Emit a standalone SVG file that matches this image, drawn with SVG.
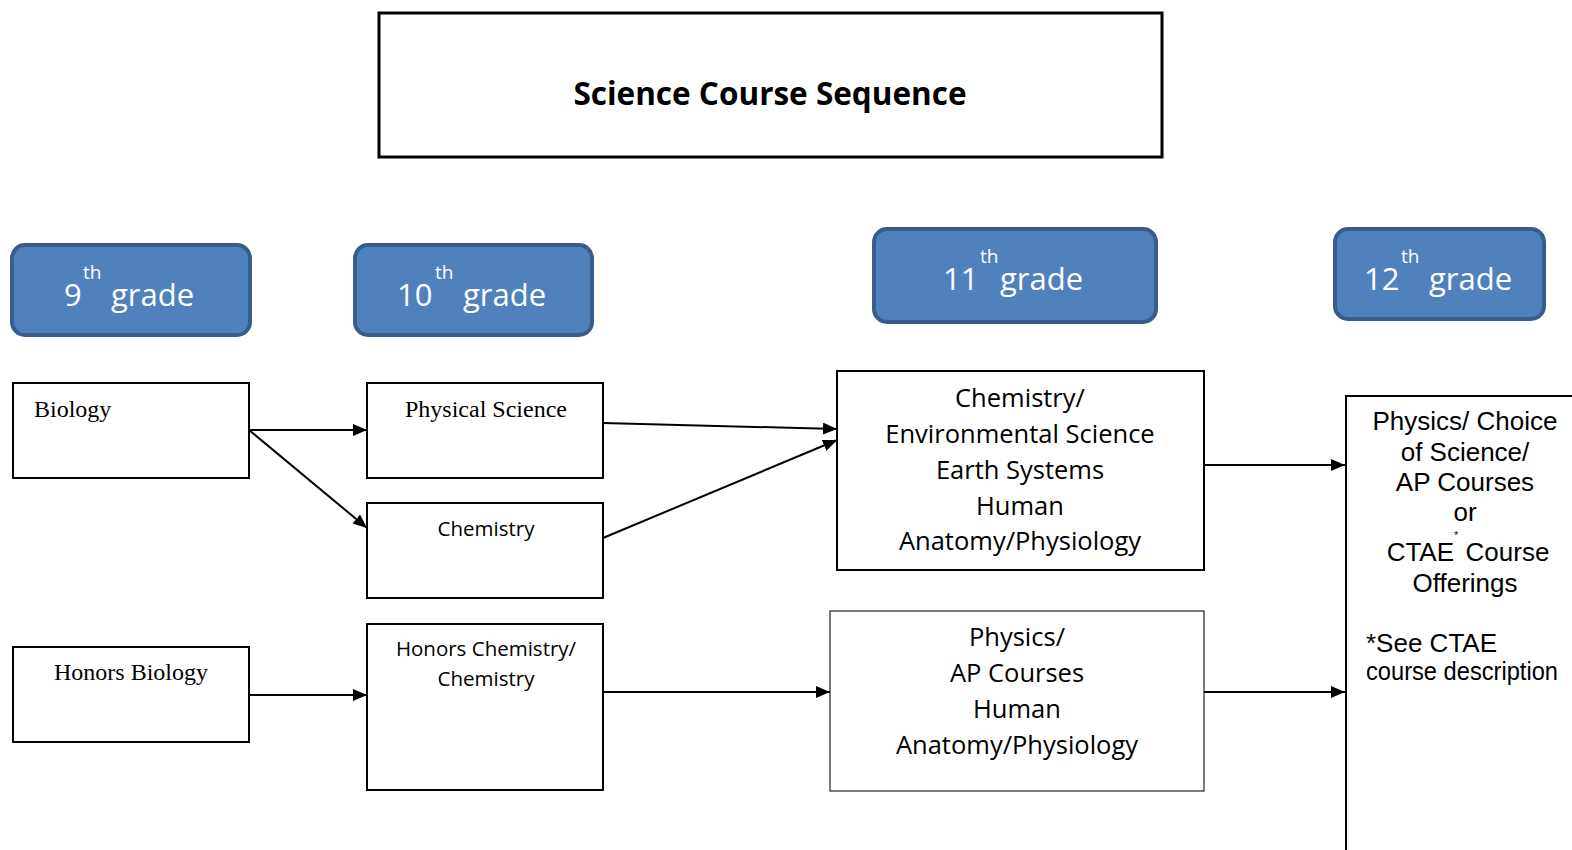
<svg xmlns="http://www.w3.org/2000/svg" width="1572" height="850" viewBox="0 0 1572 850">
  <style>
    .box { fill: #ffffff; stroke: #000000; stroke-width: 2; }
    .grade { fill: #4F81BD; stroke: #385D8A; stroke-width: 4; }
    .gtxt { font-family: "Open Sans", "Noto Sans", sans-serif; fill: #ffffff; font-size: 31px; }
    .gsup { font-family: "Open Sans", "Noto Sans", sans-serif; fill: #ffffff; font-size: 19px; }
    .serif { font-family: "Liberation Serif", serif; font-size: 24px; fill: #000; }
    .cal { font-family: "Open Sans", "Noto Sans", sans-serif; fill: #000; }
    .arial { font-family: "Liberation Sans", Arial, sans-serif; fill: #000; font-size: 26px; }
    .conn { stroke: #000; stroke-width: 2; fill: none; marker-end: url(#arrow); }
  </style>
  <defs>
    <marker id="arrow" viewBox="0 0 14 12" refX="14" refY="6" markerWidth="14" markerHeight="12" markerUnits="userSpaceOnUse" orient="auto">
      <path d="M0,0 L14,6 L0,12 Z" fill="#000"/>
    </marker>
  </defs>

  <rect width="1572" height="850" fill="#ffffff"/>

  <!-- title -->
  <g id="title">
    <rect x="379" y="13" width="783" height="144" fill="#fff" stroke="#000" stroke-width="3"/>
    <text x="770" y="105" text-anchor="middle" class="cal" font-size="31.5" font-weight="bold">Science Course Sequence</text>
  </g>

  <!-- grade headers -->
  <g id="grade9">
    <rect class="grade" x="12" y="245" width="238" height="90" rx="13"/>
    <text class="gtxt" x="64" y="306">9</text>
    <text class="gsup" x="83" y="279">th</text>
    <text class="gtxt" x="111" y="306">grade</text>
  </g>
  <g id="grade10">
    <rect class="grade" x="355" y="245" width="237" height="90" rx="13"/>
    <text class="gtxt" x="397" y="306">10</text>
    <text class="gsup" x="435" y="279">th</text>
    <text class="gtxt" x="463" y="306">grade</text>
  </g>
  <g id="grade11">
    <rect class="grade" x="874" y="229" width="282" height="93" rx="13"/>
    <text class="gtxt" x="943" y="290">11</text>
    <text class="gsup" x="980" y="263">th</text>
    <text class="gtxt" x="1000" y="290">grade</text>
  </g>
  <g id="grade12">
    <rect class="grade" x="1335" y="229" width="209" height="90" rx="13"/>
    <text class="gtxt" x="1364" y="290">12</text>
    <text class="gsup" x="1401" y="263">th</text>
    <text class="gtxt" x="1429" y="290">grade</text>
  </g>

  <!-- 9th grade courses -->
  <g id="biology">
    <rect class="box" x="13" y="383" width="236" height="95"/>
    <text class="serif" x="34" y="417">Biology</text>
  </g>
  <g id="honors-biology">
    <rect class="box" x="13" y="647" width="236" height="95"/>
    <text class="serif" font-size="24.5" x="131" y="680" text-anchor="middle">Honors Biology</text>
  </g>

  <!-- 10th grade courses -->
  <g id="physical-science">
    <rect class="box" x="367" y="383" width="236" height="95"/>
    <text class="serif" x="486" y="417" text-anchor="middle">Physical Science</text>
  </g>
  <g id="chemistry">
    <rect class="box" x="367" y="503" width="236" height="95"/>
    <text class="cal" font-size="20.5" x="486" y="536" text-anchor="middle">Chemistry</text>
  </g>
  <g id="honors-chemistry">
    <rect class="box" x="367" y="624" width="236" height="166"/>
    <text class="cal" font-size="20.5" x="486" y="656" text-anchor="middle">Honors Chemistry/</text>
    <text class="cal" font-size="20.5" x="486" y="686" text-anchor="middle">Chemistry</text>
  </g>

  <!-- 11th grade courses -->
  <g id="eleventh-standard">
    <rect class="box" x="837" y="371" width="367" height="199"/>
    <g class="cal" font-size="25.5" text-anchor="middle">
      <text x="1020" y="407">Chemistry/</text>
      <text x="1020" y="443">Environmental Science</text>
      <text x="1020" y="479">Earth Systems</text>
      <text x="1020" y="515">Human</text>
      <text x="1020" y="550">Anatomy/Physiology</text>
    </g>
  </g>
  <g id="eleventh-honors">
    <rect x="830" y="611" width="374" height="180" fill="#fff" stroke="#333" stroke-width="1.3"/>
    <g class="cal" font-size="25.5" text-anchor="middle">
      <text x="1017" y="646">Physics/</text>
      <text x="1017" y="682">AP Courses</text>
      <text x="1017" y="718">Human</text>
      <text x="1017" y="754">Anatomy/Physiology</text>
    </g>
  </g>

  <!-- 12th grade courses: box runs past the right and bottom edges -->
  <g id="twelfth">
    <rect class="box" x="1346" y="396" width="228" height="456"/>
    <g class="arial" text-anchor="middle">
      <text x="1465" y="430">Physics/ Choice</text>
      <text x="1465" y="461">of Science/</text>
      <text x="1465" y="491">AP Courses</text>
      <text x="1465" y="521">or</text>
      <text x="1468" y="561">CTAE<tspan font-size="11" dy="-22">*</tspan><tspan dy="22"> Course</tspan></text>
      <text x="1465" y="592">Offerings</text>
    </g>
    <text class="arial" font-size="23" x="1366" y="652">*See CTAE</text>
    <text class="arial" font-size="21.5" x="1366" y="680" textLength="192" lengthAdjust="spacingAndGlyphs">course description</text>
  </g>

  <!-- connectors -->
  <g id="connectors">
    <path class="conn" d="M249,430 L367,430"/>
    <path class="conn" d="M249,430 L367,528"/>
    <path class="conn" d="M603,423 L837,429"/>
    <path class="conn" d="M603,538 L837,440"/>
    <path class="conn" d="M1204,465 L1345,465"/>
    <path class="conn" d="M249,695 L367,695"/>
    <path class="conn" d="M603,692 L830,692"/>
    <path class="conn" d="M1204,692 L1345,692"/>
  </g>
</svg>
